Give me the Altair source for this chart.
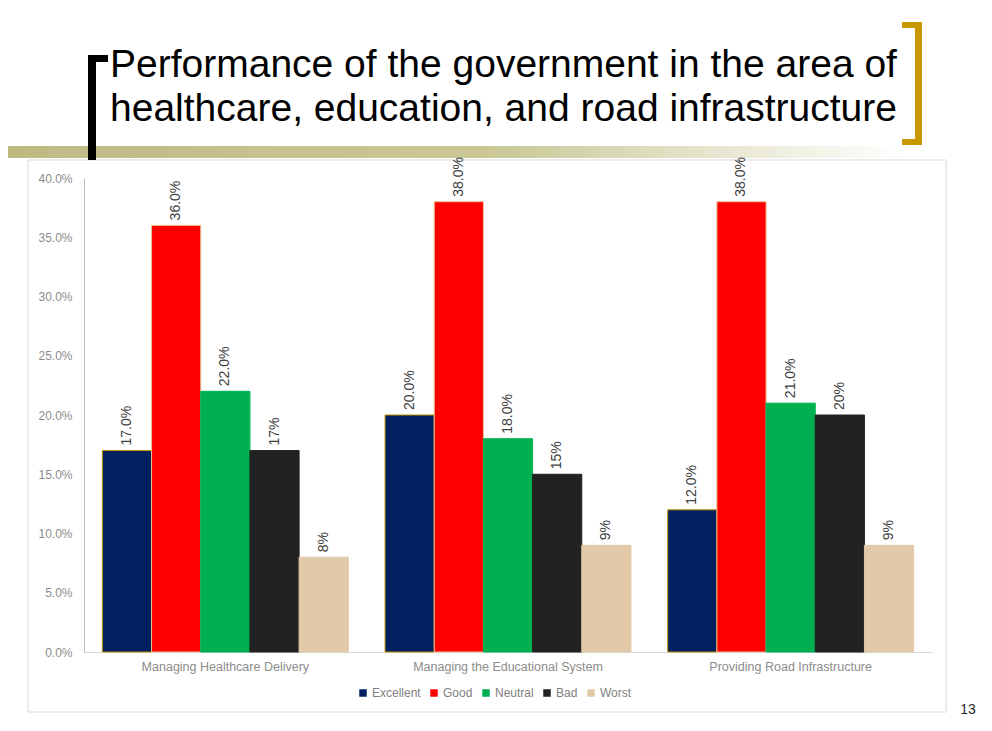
import altair as alt
import pandas as pd

categories = ["Managing Healthcare Delivery", "Managing the Educational System", "Providing Road Infrastructure"]
responses = ["Excellent", "Good", "Neutral", "Bad", "Worst"]
healthcare = [0.17, 0.36, 0.22, 0.17, 0.08]
education = [0.20, 0.38, 0.18, 0.15, 0.09]
road = [0.12, 0.38, 0.21, 0.20, 0.09]
healthcare_labels = ["17.0%", "36.0%", "22.0%", "17%", "8%"]
education_labels = ["20.0%", "38.0%", "18.0%", "15%", "9%"]
road_labels = ["12.0%", "38.0%", "21.0%", "20%", "9%"]
y_ticks = [0.0, 0.05, 0.10, 0.15, 0.20, 0.25, 0.30, 0.35, 0.40]
title_lines = ["Performance of the government in the area of",
               "healthcare, education, and road infrastructure"]
page_number = "13"

fill_colors = ["#002060", "#ff0000", "#00b050", "#222222", "#e2c9a8"]
stroke_colors = ["#c09000", "#e8c090", "#00b050", "#222222", "#e2c9a8"]

rows = []
for cat, vals, labs in zip(categories, [healthcare, education, road],
                           [healthcare_labels, education_labels, road_labels]):
    for r, v, l in zip(responses, vals, labs):
        rows.append({"category": cat, "response": r, "value": v, "label": l})
df = pd.DataFrame(rows)

OX, OY = 84, 178  # page position of plot origin

x = alt.X("category:N", sort=categories,
          scale=alt.Scale(paddingInner=0.13, paddingOuter=0.065),
          axis=alt.Axis(title=None, labelAngle=0, ticks=False, domainColor="#d9d9d9",
                        labelColor="#8c8c8c", labelFontSize=12.5, labelPadding=8,
                        labelLimit=0))
xo = alt.XOffset("response:N", sort=responses, scale=alt.Scale(paddingInner=0, paddingOuter=0))
y = alt.Y("value:Q", scale=alt.Scale(domain=[0, 0.4]),
          axis=alt.Axis(title=None, format=".1%", values=y_ticks, grid=False, ticks=False,
                        domainColor="#bfbfbf", labelColor="#8c8c8c", labelFontSize=12,
                        labelPadding=12))

bars = alt.Chart(df).mark_bar(strokeWidth=1).encode(
    x=x, xOffset=xo, y=y,
    color=alt.Color("response:N", sort=responses,
                    scale=alt.Scale(domain=responses, range=fill_colors),
                    legend=alt.Legend(title=None, orient="none", legendX=273, legendY=509,
                                      direction="horizontal", symbolType="square",
                                      symbolSize=56, labelFontSize=12, labelColor="#7f7f7f",
                                      labelOffset=3, columnPadding=7, symbolStrokeWidth=0)),
    stroke=alt.Stroke("response:N", sort=responses,
                      scale=alt.Scale(domain=responses, range=stroke_colors), legend=None),
)

labels = alt.Chart(df).mark_text(angle=270, align="left", baseline="middle", dx=5,
                                 fontSize=14, color="#404040").encode(
    x=x, xOffset=xo, y=y, text="label:N")

deco = pd.DataFrame({"k": [0]})


def rect(x1, x2, y1, y2, **kw):
    return alt.Chart(deco).mark_rect(**kw).encode(
        x=alt.value(x1 - OX), x2=alt.value(x2 - OX),
        y=alt.value(y1 - OY), y2=alt.value(y2 - OY))


frame = rect(28, 946, 160, 712, fillOpacity=0, stroke="#d9d9d9", strokeWidth=1)
gradient = rect(8, 984, 146, 158, color=alt.LinearGradient(
    gradient="linear", x1=0, x2=1, y1=0, y2=0,
    stops=[alt.GradientStop(offset=0, color="#bdbb82"),
           alt.GradientStop(offset=0.5, color="#cac897"),
           alt.GradientStop(offset=0.92, color="#ffffff"),
           alt.GradientStop(offset=1, color="#ffffff")]))
lb_v = rect(88, 96, 55, 160, color="#000000")
lb_h = rect(88, 108, 55, 62, color="#000000")
rb_v = rect(915, 922, 22, 145, color="#c89800")
rb_t = rect(902, 922, 22, 28, color="#c89800")
rb_b = rect(902, 922, 139, 145, color="#c89800")

t1 = alt.Chart(deco).mark_text(text=title_lines[0], fontSize=39, align="left",
                               baseline="alphabetic", color="#000000").encode(
    x=alt.value(110 - OX), y=alt.value(77 - OY))
t2 = alt.Chart(deco).mark_text(text=title_lines[1], fontSize=39, align="left",
                               baseline="alphabetic", color="#000000").encode(
    x=alt.value(110 - OX), y=alt.value(121 - OY))
pn = alt.Chart(deco).mark_text(text=page_number, fontSize=14, align="center",
                               baseline="middle", color="#262626").encode(
    x=alt.value(968 - OX), y=alt.value(710 - OY))

chart = alt.layer(frame, gradient, lb_v, lb_h, rb_v, rb_t, rb_b, t1, t2, bars, labels, pn).properties(
    width=848, height=474,
    padding={"left": 76, "top": 170, "right": 52, "bottom": 64},
    autosize=alt.AutoSizeParams(type="none"),
).configure(font="Liberation Sans").configure_view(strokeWidth=0)

chart.save("out.html", embed_options={"renderer": "svg", "actions": False})
